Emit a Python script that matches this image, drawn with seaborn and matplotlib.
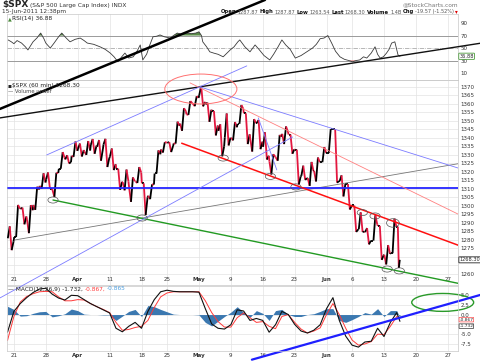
import numpy as np
import pandas as pd
import matplotlib
matplotlib.use("Agg")
import matplotlib.pyplot as plt
from matplotlib.patches import Ellipse
from matplotlib.collections import LineCollection
import seaborn as sns

# ---- data -------------------------------------------------------------
# trading day index: 0 = 21-Mar-2011 (Good Friday and Memorial Day skipped)
day_idx = list(range(-1, 61))
opens = [1281.0, 1281.7, 1298.3, 1292.2, 1300.6, 1311.8, 1315.5, 1309.4, 1321.9, 1327.4,
         1329.5, 1333.6, 1332.0, 1335.9, 1334.8, 1336.2, 1329.0, 1322.0, 1314.0, 1311.1,
         1314.5, 1313.3, 1306.0, 1319.1, 1333.2, 1337.1, 1336.8, 1348.4, 1353.9, 1360.1,
         1365.2, 1359.8, 1355.9, 1344.2, 1340.2, 1340.2, 1348.3, 1354.5, 1339.4, 1348.7,
         1334.8, 1326.1, 1328.5, 1342.4, 1342.0, 1333.1, 1317.7, 1316.4, 1320.6, 1325.7,
         1331.1, 1345.2, 1314.6, 1312.9, 1300.3, 1286.3, 1284.6, 1279.6, 1288.3, 1271.3,
         1272.2, 1287.9]
highs = [1288.0, 1300.6, 1299.0, 1300.5, 1311.3, 1319.2, 1319.7, 1319.5, 1331.7, 1329.8,
         1337.9, 1336.7, 1338.2, 1339.4, 1338.8, 1339.5, 1333.8, 1322.0, 1321.4, 1316.8,
         1322.9, 1313.3, 1312.7, 1332.7, 1337.5, 1337.6, 1349.6, 1357.5, 1361.7, 1364.6,
         1370.6, 1360.8, 1355.9, 1348.0, 1354.4, 1349.4, 1359.4, 1354.5, 1351.1, 1350.5,
         1343.3, 1330.4, 1341.8, 1346.8, 1342.0, 1333.1, 1323.7, 1325.9, 1328.5, 1334.6,
         1345.2, 1345.2, 1318.0, 1312.9, 1300.3, 1296.2, 1287.0, 1294.5, 1288.3, 1277.0,
         1292.5, 1287.9]
lows = [1274.0, 1281.7, 1289.2, 1284.0, 1297.7, 1310.2, 1310.2, 1305.3, 1321.9, 1325.0,
        1328.9, 1329.1, 1330.0, 1330.7, 1326.6, 1322.9, 1321.1, 1309.5, 1309.2, 1302.4,
        1313.5, 1294.7, 1304.0, 1319.1, 1331.4, 1331.7, 1336.7, 1344.2, 1353.6, 1358.7,
        1358.6, 1349.5, 1341.5, 1329.2, 1335.6, 1338.6, 1348.3, 1336.4, 1332.0, 1333.4,
        1327.3, 1318.5, 1326.6, 1336.4, 1330.7, 1312.6, 1315.4, 1311.8, 1314.4, 1325.7,
        1331.1, 1313.7, 1305.6, 1297.9, 1284.7, 1284.7, 1277.4, 1279.6, 1268.3, 1265.6,
        1272.2, 1263.5]
closes = [1279.2, 1298.4, 1293.8, 1297.5, 1309.7, 1313.8, 1310.2, 1319.4, 1328.3, 1325.8,
          1332.4, 1332.9, 1332.6, 1335.5, 1333.5, 1328.2, 1324.5, 1314.2, 1314.5, 1314.5,
          1319.7, 1305.1, 1312.6, 1330.4, 1337.4, 1335.3, 1347.2, 1355.7, 1360.5, 1363.6,
          1361.2, 1356.6, 1347.3, 1335.1, 1340.2, 1346.3, 1357.2, 1342.1, 1348.7, 1337.8,
          1329.5, 1329.0, 1340.7, 1343.6, 1333.3, 1317.4, 1316.3, 1320.5, 1325.7, 1331.1,
          1345.2, 1314.6, 1312.9, 1300.2, 1286.2, 1284.9, 1279.6, 1289.0, 1271.0, 1271.8,
          1287.9, 1268.3]
last_session = 0.5          # 15-Jun snapshot taken at 12:38pm

tick_days = [0, 5, 10, 15, 20, 24, 29, 34, 39, 44, 49, 53, 58, 63, 68]
tick_labels = ["21", "28", "Apr", "11", "18", "25", "May", "9", "16", "23", "Jun", "6", "13", "20", "27"]
month_labels = ["Apr", "May", "Jun"]

rsi_x = [-0.9, -0.4, 0.0, 0.5, 1.2, 1.8, 2.2, 3.0, 3.6, 4.2, 4.7, 5.0, 5.7, 6.3, 7.0, 7.5,
         8.2, 8.8, 9.6, 10.4, 11.0, 11.5, 12.5, 13.5, 14.3, 15.1, 15.7, 16.3, 16.9, 17.4,
         18.0, 18.7, 19.3, 19.8, 20.2, 20.8, 21.3, 21.8, 22.4, 22.9, 23.6, 24.5, 25.0, 25.6,
         26.3, 27.1, 27.8, 28.5, 29.0, 29.4, 29.6, 30.2, 30.7, 31.3, 32.0, 32.8, 33.4, 33.9,
         34.5, 35.1, 35.4, 36.2, 37.0, 37.8, 38.4, 39.2, 40.1, 40.7, 41.4, 42.0, 42.6, 43.3,
         44.1, 45.0, 45.9, 46.8, 47.4, 48.0, 48.6, 49.2, 49.8, 50.4, 51.1, 51.8, 52.5, 53.1,
         53.6, 54.2, 54.8, 55.3, 56.0, 56.6, 57.0, 57.4, 57.9, 58.4, 58.8, 59.2, 59.7, 60.2, 60.5]
rsi_v = [63, 60, 57, 62, 58, 52, 47, 60, 66, 74, 65, 58, 50, 58, 68, 74,
         66, 60, 64, 66, 62, 58, 56, 52, 48, 42, 36, 28, 36, 42,
         34, 36, 45, 55, 31, 40, 55, 68, 69, 71, 68, 66, 70, 74,
         72, 74, 73, 74, 76, 70, 60, 52, 44, 42, 40, 36, 42, 47,
         52, 60, 63, 52, 44, 55, 48, 38, 31, 40, 52, 63, 55, 48,
         34, 38, 44, 50, 56, 65, 66, 70, 58, 45, 36, 32, 30, 28,
         30, 31, 36, 34, 42, 52, 40, 34, 36, 42, 48, 58, 60, 39, 36.88]

macd_x = list(range(-1, 61)) + [60.5]
macd_v = [-4.5, 0.8, 2.8, 4.3, 5.6, 6.5, 6.7, 5.2, 4.2, 3.7, 4.9, 4.8, 3.8, 2.8, 2.0, 1.2,
          0.4, -3.5, -4.4, -3.0, -2.0, -3.5, 0.8, 3.8, 5.8, 6.2, 5.9, 5.8, 5.8, 5.8,
          5.7, 1.5, -2.4, -3.5, -3.7, -2.6, 1.2, 0.9, -1.5, -1.0, -1.5, -4.5, -2.6, 0.8,
          0.0, -2.5, -4.2, -4.7, -4.0, -2.6, 1.5, 4.3, -1.5, -5.5, -7.8, -8.3, -7.0, -6.8,
          -3.5, -5.6, -2.0, 0.5, -1.732]
signal_v = [-6.6, -0.5, 3.2, 4.6, 5.3, 5.8, 5.9, 5.8, 4.5, 3.5, 3.5, 3.8, 3.7, 2.8, 2.0, 1.3,
            0.5, -2.0, -4.0, -3.8, -3.3, -3.0, -1.5, 1.8, 4.5, 5.5, 5.8, 5.8, 5.8, 5.8,
            5.8, 3.5, 0.5, -1.8, -3.2, -3.2, -0.8, 0.4, -0.8, -2.0, -1.8, -3.0, -3.6, -0.5,
            0.0, -2.0, -3.7, -4.7, -4.2, -3.4, 0.0, 2.8, 0.0, -3.5, -6.5, -7.8, -7.5, -6.9,
            -5.0, -5.1, -3.0, -0.5, -0.867]

# annotation anchors (day index, price)
thick_black = ([-2.18, 39.35], [1357.1, 1421.2])
thin_black = ([-2.18, 73.06], [1351.8, 1395.7])
gray_line = ([0.17, 73.1], [1280.0, 1327.1])
support_level = 1310.6
green_line = ([6.13, 73.1], [1303.5, 1251.8])
red_thick = ([26.3, 73.1], [1336.9, 1272.1])
red_thin = ([27.6, 73.1], [1372.4, 1288.8])
blue_from_top = ([29.2, 73.1], [1370.0, 1318.2])
blue_upper = ([5.14, 36.5], [1330.0, 1382.4])
blue_lower = ([-2.18, 43.7], [1245.9, 1340.6])
blue_steep = ([38.3, 41.2], [1351.8, 1321.2])
top_ellipse = (29.3, 1368.8)
touch_x = [6.13, 20.1, 32.8, 40.2, 44.2, 54.6, 56.6, 59.4, 58.5, 60.4]
touch_y = [1303.5, 1292.9, 1328.2, 1317.4, 1311.2, 1296.1, 1294.1, 1290.0, 1262.9, 1261.8]
macd_trend = ([37.3, 73.1], [-11.5, 5.0])
macd_ellipse = (67.2, 3.09)

# ---- figure -----------------------------------------------------------
sns.set_theme(style="white")
plt.rcParams["font.family"] = ["DejaVu Sans"]

W, H = 480, 361
fig = plt.figure(figsize=(W / 100, H / 100), dpi=100)
fig.patch.set_facecolor("white")


def panel(top, bottom):
    return fig.add_axes([7 / W, 1 - bottom / H, 451 / W, (bottom - top) / H])


ax_rsi = panel(14, 80)
ax_macd = panel(286, 351)
ax_px = panel(80, 285)

XLIM = (-1.08, 69.6)
GRID = "#e3e3e3"
UP, DOWN = "#000000", "#e3173f"

for ax in (ax_rsi, ax_macd, ax_px):
    ax.set_xlim(*XLIM)
    ax.set_facecolor("none")
    for s in ax.spines.values():
        s.set_color("#c8c8c8")
        s.set_linewidth(0.5)
    ax.set_xticks(tick_days)
    ax.yaxis.tick_right()
    ax.tick_params(axis="y", length=0, labelsize=4, pad=2, colors="#333333")
    ax.tick_params(axis="x", length=0, labelsize=4, colors="#333333")
    for d in tick_days:
        ax.axvline(d, color=GRID, lw=0.5, zorder=0)
    ax.set_xlabel("")
    ax.set_ylabel("")

# ---- RSI panel ----
rsi_arr = np.array(rsi_v, dtype=float)
ax_rsi.set_ylim(-1.1, 104.5)
ax_rsi.set_yticks([10, 30, 50, 70, 90])
ax_rsi.set_xticklabels([])
ax_rsi.axhline(70, color="#9a9a9a", lw=0.7)
ax_rsi.axhline(30, color="#9a9a9a", lw=0.7)
ax_rsi.axhline(50, color="#9a9a9a", lw=0.5, ls="-.")
ax_rsi.fill_between(rsi_x, 70, rsi_arr, where=rsi_arr > 70, interpolate=True, color="#5b8c4a", lw=0)
ax_rsi.fill_between(rsi_x, 30, rsi_arr, where=rsi_arr < 30, interpolate=True, color="#d04040", lw=0)
sns.lineplot(x=rsi_x, y=rsi_v, ax=ax_rsi, color="#3a3a3a", linewidth=0.6, estimator=None, sort=False)
ax_rsi.text(1.003, 36.88, "36.88", transform=ax_rsi.get_yaxis_transform(), fontsize=3.6, va="center",
            bbox=dict(boxstyle="round,pad=0.12", fc="white", ec="#4a9a3a", lw=0.6))

# ---- MACD panel ----
macd_arr = np.array(macd_v)
sig_arr = np.array(signal_v)
hist = macd_arr - sig_arr
macd_ticks = [-7.5, -5.0, -2.5, 0.0, 2.5, 5.0]
ax_macd.set_ylim(-9.29, 7.27)
ax_macd.set_yticks(macd_ticks)
# the -2.5 label sits under the value boxes
ax_macd.set_yticklabels(["-7.5", "-5.0", "", "0.0", "2.5", "5.0"])
for v in macd_ticks:
    ax_macd.axhline(v, color=GRID, lw=0.5, zorder=0)
ax_macd.fill_between(macd_x, 0, hist, color="#3b78b0", lw=0)
sns.lineplot(x=macd_x, y=signal_v, ax=ax_macd, color="#ff3a3a", linewidth=0.7, estimator=None, sort=False)
sns.lineplot(x=macd_x, y=macd_v, ax=ax_macd, color="#111111", linewidth=0.8, estimator=None, sort=False)
ax_macd.set_xticklabels(tick_labels)
ax_macd.tick_params(axis="x", pad=1.5)
ax_macd.plot(*macd_trend, color="#1f1fff", lw=1.6, clip_on=False)
ax_macd.add_patch(Ellipse(macd_ellipse, 9.7, 4.56, fill=False, ec="#2a9a2a", lw=1.0, clip_on=False))
ax_macd.text(1.003, -1.3, "-0.867", transform=ax_macd.get_yaxis_transform(), fontsize=3.2, va="center",
             bbox=dict(boxstyle="round,pad=0.06", fc="white", ec="#ff5050", lw=0.5))
ax_macd.text(1.003, -2.95, "-1.732", transform=ax_macd.get_yaxis_transform(), fontsize=3.2, va="center",
             bbox=dict(boxstyle="round,pad=0.06", fc="white", ec="#333333", lw=0.5))

# ---- price panel ----
price_ticks = np.arange(1260, 1371, 5)
ax_px.set_ylim(1253.5, 1374.1)
ax_px.set_yticks(price_ticks)
# 1265 and 1270 are hidden behind the last-price box
ax_px.set_yticklabels(["" if v in (1265, 1270) else str(v) for v in price_ticks])
for v in price_ticks:
    ax_px.axhline(v, color=GRID, lw=0.5, zorder=0)
ax_px.set_xticklabels(tick_labels)
ax_px.tick_params(axis="x", pad=-6)

# intraday path per session: open -> first extreme -> second extreme -> close
px_x, px_p = [], []
for i, d in enumerate(day_idx):
    o, h, l, c = opens[i], highs[i], lows[i], closes[i]
    legs = [o, l, h, c] if c > o else [o, h, l, c]
    span = last_session if i == len(day_idx) - 1 else 1.0
    for k, p in enumerate(legs):
        px_x.append(d + (0.05 + 0.3 * k) * span)
        px_p.append(p)
path = pd.DataFrame({"x": px_x, "p": px_p})
pts = path[["x", "p"]].to_numpy()
segs = np.stack([pts[:-1], pts[1:]], axis=1)
seg_cols = np.where(path["p"].diff().iloc[1:] >= 0, UP, DOWN)
ax_px.add_collection(LineCollection(segs, colors=seg_cols, linewidths=1.3, zorder=3, capstyle="butt"))

ax_px.plot(*thick_black, color="black", lw=1.8, clip_on=False, zorder=4)
ax_px.plot(*thin_black, color="#111111", lw=1.0, clip_on=False, zorder=4)
ax_px.plot(*gray_line, color="#777777", lw=0.6, zorder=4)
ax_px.axhline(support_level, xmin=0.003, color="#2424ff", lw=1.3, zorder=4)
ax_px.plot(*green_line, color="#229a22", lw=1.0, zorder=4)
ax_px.plot(*red_thick, color="#ff1010", lw=1.1, zorder=4)
ax_px.plot(*red_thin, color="#ff8080", lw=0.6, zorder=4)
ax_px.plot(*blue_from_top, color="#7b7bff", lw=0.6, zorder=4)
ax_px.plot(*blue_upper, color="#7b7bff", lw=0.6, clip_on=False, zorder=4)
ax_px.plot(*blue_lower, color="#7b7bff", lw=0.6, clip_on=False, zorder=4)
ax_px.plot(*blue_steep, color="#7b7bff", lw=0.6, zorder=4)
ax_px.add_patch(Ellipse(top_ellipse, 11.3, 17.6, fill=False, ec="#ff7070", lw=0.7, clip_on=False, zorder=4))
for i, (tx, ty) in enumerate(zip(touch_x, touch_y)):
    w, h = (2.0, 5.0) if i == 7 else (1.6, 3.6)
    ax_px.add_patch(Ellipse((tx, ty), w, h, fill=False, ec="#555555", lw=0.5, zorder=5))
ax_px.text(1.003, closes[-1], "1268.30", transform=ax_px.get_yaxis_transform(), fontsize=3.6, va="center",
           bbox=dict(boxstyle="round,pad=0.1", fc="white", ec="#222222", lw=0.6))

# bold month ticks
for ax in (ax_px, ax_macd):
    for lab in ax.get_xticklabels():
        if lab.get_text() in month_labels:
            lab.set_fontweight("bold")

# ---- texts ----
renderer = fig.canvas.get_renderer()


def text_run(x_px, y_px, parts, ha="left", gap=1.5):
    objs = [fig.text(0, 1 - y_px / H, s, va="center", **kw) for s, kw in parts]
    widths = [t.get_window_extent(renderer).width for t in objs]
    total = sum(widths) + gap * (len(objs) - 1)
    x = x_px - total if ha == "right" else x_px
    for t, w in zip(objs, widths):
        t.set_x(x / W)
        x += w + gap


lab = dict(fontsize=3.8, fontweight="bold", color="#111111")
val = dict(fontsize=3.6, color="#555555")
text_run(2, 5, [(r"\$SPX", dict(fontsize=6.5, fontweight="bold")),
                ("(S&P 500 Large Cap Index) INDX", dict(fontsize=4.2, color="#333333"))])
text_run(2, 11.5, [("15-Jun-2011 12:38pm", dict(fontsize=4.2, color="#333333"))])
text_run(458, 5, [("@StockCharts.com", dict(fontsize=4.2, color="#777777"))], ha="right")
text_run(458, 12, [("Open", lab), ("1287.87", val), ("High", lab), ("1287.87", val),
                   ("Low", lab), ("1263.54", val), ("Last", lab), ("1268.30", val),
                   ("Volume", lab), ("1.4B", val), ("Chg", lab), ("-19.57 (-1.52%)", val),
                   ("\u25be", dict(fontsize=4.0, color="#dd0000"))], ha="right", gap=1.2)
text_run(8, 18.5, [("\u25b2", dict(fontsize=3.5, color="#4a8a3a")),
                   ("RSI(14) 36.88", dict(fontsize=4.2, color="#222222"))], gap=0.5)
text_run(8, 86, [("\u25aa", dict(fontsize=4.2, color="#222222")),
                 (r"\$SPX (60 min) 1268.30", dict(fontsize=4.2, color="#222222"))], gap=0.5)
text_run(8, 91.5, [("\u2014 Volume undef", dict(fontsize=3.8, color="#444444"))])
text_run(8, 289, [("\u2014 MACD(12,26,9) -1.732,", dict(fontsize=4.2, color="#222222")),
                  ("-0.867,", dict(fontsize=4.2, color="#ff3a3a")),
                  ("-0.865", dict(fontsize=4.2, color="#4fa0e0"))])

fig.savefig("out.png", dpi=100)
